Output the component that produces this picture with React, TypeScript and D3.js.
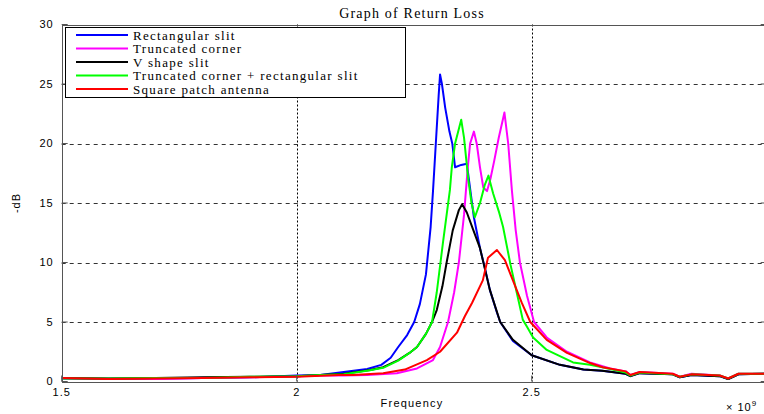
import { useMemo } from 'react';
import * as d3 from 'd3';

const W = 764;
const H = 414;
const MARGIN = { top: 24.5, right: -2.7, bottom: 32.5, left: 61.7 };

type Pt = [number, number];

// frequency in GHz (axis shows x 10^9), return loss in -dB
const rectSlit: Pt[] = [
  [1.5, 0.25], [1.6, 0.2], [1.7, 0.25], [1.8, 0.3], [1.9, 0.35], [2.0, 0.5], [2.05, 0.55],
  [2.1, 0.8], [2.15, 1.05], [2.18, 1.4], [2.2, 2.0], [2.216, 2.9], [2.235, 3.9], [2.25, 5],
  [2.262, 6.5], [2.275, 9], [2.285, 13], [2.29, 16], [2.296, 20], [2.302, 24], [2.305, 25.8],
  [2.309, 25], [2.316, 23], [2.325, 21], [2.331, 20], [2.337, 18], [2.35, 18.2], [2.362, 18.3],
  [2.368, 16.5], [2.377, 13.8], [2.39, 11.2], [2.4, 9.6], [2.411, 7.7], [2.426, 5.8], [2.433, 5],
  [2.46, 3.4], [2.5, 2.2], [2.56, 1.4], [2.61, 1.0], [2.65, 0.9], [2.7, 0.65], [2.71, 0.45],
  [2.73, 0.7], [2.8, 0.6], [2.815, 0.35], [2.84, 0.55], [2.9, 0.45], [2.918, 0.2], [2.94, 0.6],
  [3.0, 0.65],
];

const truncCorner: Pt[] = [
  [1.5, 0.3], [1.6, 0.25], [1.7, 0.2], [1.8, 0.3], [1.9, 0.35], [2.0, 0.45], [2.05, 0.5],
  [2.1, 0.5], [2.15, 0.55], [2.213, 0.7], [2.256, 1.1], [2.29, 1.8], [2.305, 2.9], [2.322, 5],
  [2.335, 7.5], [2.345, 10], [2.356, 14], [2.364, 18], [2.369, 20], [2.377, 21], [2.383, 20],
  [2.39, 18], [2.397, 16.3], [2.405, 16], [2.412, 17], [2.42, 18.5], [2.43, 20.5], [2.442, 22.6],
  [2.45, 20], [2.458, 16], [2.466, 12.7], [2.475, 10], [2.49, 7.2], [2.505, 5], [2.532, 3.7],
  [2.575, 2.5], [2.624, 1.6], [2.667, 1.1], [2.7, 0.85], [2.71, 0.55], [2.73, 0.8], [2.8, 0.65],
  [2.815, 0.4], [2.84, 0.65], [2.9, 0.5], [2.918, 0.25], [2.94, 0.65], [3.0, 0.65],
];

const vShape: Pt[] = [
  [1.5, 0.3], [1.6, 0.25], [1.7, 0.3], [1.8, 0.35], [1.9, 0.4], [2.0, 0.45], [2.05, 0.55],
  [2.1, 0.65], [2.156, 0.97], [2.184, 1.2], [2.216, 1.8], [2.24, 2.4], [2.256, 2.9], [2.275, 4],
  [2.288, 5], [2.298, 6], [2.31, 8], [2.319, 10], [2.332, 12.7], [2.345, 14.4], [2.352, 14.9],
  [2.362, 14.2], [2.375, 12.8], [2.39, 11.2], [2.411, 7.7], [2.433, 5], [2.46, 3.5], [2.5, 2.2],
  [2.56, 1.4], [2.61, 1.0], [2.65, 0.9], [2.7, 0.65], [2.71, 0.45], [2.73, 0.7], [2.8, 0.6],
  [2.815, 0.35], [2.84, 0.55], [2.9, 0.45], [2.918, 0.2], [2.94, 0.6], [3.0, 0.65],
];

const truncRect: Pt[] = [
  [1.5, 0.25], [1.6, 0.25], [1.7, 0.3], [1.8, 0.3], [1.9, 0.4], [2.0, 0.45], [2.05, 0.55],
  [2.1, 0.6], [2.156, 0.95], [2.184, 1.15], [2.216, 1.75], [2.24, 2.4], [2.256, 2.9], [2.275, 4],
  [2.288, 5], [2.298, 7.5], [2.311, 11.6], [2.326, 16.1], [2.33, 18], [2.337, 20], [2.35, 22],
  [2.356, 20.5], [2.365, 17], [2.372, 15], [2.379, 13.8], [2.39, 15], [2.4, 16.5], [2.408, 17.3],
  [2.418, 15.8], [2.43, 14.3], [2.439, 13], [2.455, 9.8], [2.468, 7.5], [2.481, 5.2], [2.49, 4.6],
  [2.503, 3.7], [2.532, 2.65], [2.588, 1.6], [2.624, 1.4], [2.65, 1.2], [2.7, 0.75], [2.71, 0.5],
  [2.73, 0.75], [2.8, 0.6], [2.815, 0.4], [2.84, 0.6], [2.9, 0.5], [2.918, 0.25], [2.94, 0.65],
  [3.0, 0.65],
];

const squarePatch: Pt[] = [
  [1.5, 0.3], [1.6, 0.2], [1.7, 0.25], [1.8, 0.3], [1.9, 0.35], [2.0, 0.4], [2.09, 0.55],
  [2.12, 0.55], [2.184, 0.7], [2.23, 1.0], [2.277, 1.8], [2.305, 2.5], [2.341, 4.1], [2.358, 5.5],
  [2.373, 6.6], [2.396, 8.5], [2.407, 10.4], [2.426, 11.05], [2.443, 10.2], [2.46, 8.5],
  [2.479, 6.6], [2.497, 5], [2.532, 3.5], [2.575, 2.4], [2.624, 1.55], [2.651, 1.2], [2.7, 0.85],
  [2.71, 0.55], [2.73, 0.8], [2.8, 0.65], [2.815, 0.4], [2.84, 0.6], [2.9, 0.5], [2.918, 0.25],
  [2.94, 0.65], [3.0, 0.65],
];

const seriesNames = [
  'Rectangular slit',
  'Truncated corner',
  'V shape slit',
  'Truncated corner + rectangular slit',
  'Square patch antenna',
];
const seriesData = [rectSlit, truncCorner, vShape, truncRect, squarePatch];
const seriesColors = ['#0000ff', '#ff00ff', '#000000', '#00ff00', '#ff0000'];

const xTicks = [1.5, 2, 2.5, 3];
// the "3" label sits past the window's right edge
const xTickLabels = ['1.5', '2', '2.5', ''];
const yTicks = [0, 5, 10, 15, 20, 25, 30];

export default function App() {
  const x0 = MARGIN.left;
  const x1 = W - MARGIN.right;
  const y0 = H - MARGIN.bottom;
  const y1 = MARGIN.top;

  const xScale = useMemo(() => d3.scaleLinear().domain([1.5, 3]).range([x0, x1]), []);
  const yScale = useMemo(() => d3.scaleLinear().domain([0, 30]).range([y0, y1]), []);

  const line = d3
    .line<Pt>()
    .x((d) => xScale(d[0]))
    .y((d) => yScale(d[1]));

  const serif = '"Liberation Serif", "DejaVu Serif", serif';
  const sans = '"Liberation Sans", Arial, sans-serif';

  return (
    <svg
      width={W}
      height={H}
      style={{ position: 'absolute', left: 0, top: 0, background: '#fff' }}
    >
      <defs>
        <clipPath id="plot">
          <rect x={x0} y={y1} width={x1 - x0} height={y0 - y1} />
        </clipPath>
      </defs>
      <rect x={0} y={0} width={W} height={H} fill="#fff" />

      {/* grid */}
      {yTicks.slice(1, -1).map((t) => (
        <line
          key={'gy' + t}
          x1={x0}
          x2={x1}
          y1={Math.round(yScale(t)) + 0.5}
          y2={Math.round(yScale(t)) + 0.5}
          stroke="#333"
          strokeDasharray="4,4"
        />
      ))}
      {xTicks.slice(1, -1).map((t) => (
        <line
          key={'gx' + t}
          x1={Math.round(xScale(t)) + 0.5}
          x2={Math.round(xScale(t)) + 0.5}
          y1={y1}
          y2={y0}
          stroke="#000"
          strokeDasharray="2,2"
        />
      ))}

      {/* curves */}
      <g clipPath="url(#plot)">
        {seriesData.map((d, i) => (
          <path
            key={i}
            d={line(d) || ''}
            fill="none"
            stroke={seriesColors[i]}
            strokeWidth={2}
            strokeLinejoin="round"
          />
        ))}
      </g>

      {/* frame */}
      <rect
        x={Math.round(x0) + 0.5}
        y={Math.round(y1) + 0.5}
        width={x1 - x0}
        height={y0 - y1}
        fill="none"
        stroke="#555"
      />
      {yTicks.map((t) => (
        <g key={'ty' + t}>
          <line x1={x0} x2={x0 + 6} y1={yScale(t)} y2={yScale(t)} stroke="#555" />
          <line x1={x1 - 6} x2={x1} y1={yScale(t)} y2={yScale(t)} stroke="#555" />
          <text
            x={x0 - 8}
            y={yScale(t)}
            dy="0.35em"
            textAnchor="end"
            fontFamily={sans}
            fontSize={11}
            letterSpacing={1}
          >
            {t}
          </text>
        </g>
      ))}
      {xTicks.map((t, i) => (
        <g key={'tx' + t}>
          <line x1={xScale(t)} x2={xScale(t)} y1={y0} y2={y0 - 6} stroke="#555" />
          {xTickLabels[i] && (
            <text
              x={xScale(t)}
              y={y0 + 14}
              textAnchor="middle"
              fontFamily={sans}
              fontSize={11}
              letterSpacing={1}
            >
              {xTickLabels[i]}
            </text>
          )}
        </g>
      ))}

      {/* labels */}
      <text x={412} y={18} textAnchor="middle" fontFamily={serif} fontSize={14} letterSpacing={1.2}>
        Graph of Return Loss
      </text>
      <text x={412} y={407} textAnchor="middle" fontFamily={sans} fontSize={11} letterSpacing={1.2}>
        Frequency
      </text>
      <text
        transform={`translate(20,${(y0 + y1) / 2}) rotate(-90)`}
        textAnchor="middle"
        fontFamily={sans}
        fontSize={11}
        letterSpacing={1}
      >
        -dB
      </text>
      <text x={726} y={411} fontFamily={sans} fontSize={11} letterSpacing={1}>
        × 10
        <tspan dy={-5} fontSize={8}>
          9
        </tspan>
      </text>

      {/* legend */}
      <rect x={65.5} y={27.5} width={340} height={70} fill="#fff" stroke="#000" />
      {seriesNames.map((name, i) => {
        const ly = 35 + i * 13.5;
        return (
          <g key={name}>
            <line x1={76} x2={128} y1={ly} y2={ly} stroke={seriesColors[i]} strokeWidth={2} />
            <text
              x={133}
              y={ly}
              dy="0.35em"
              fontFamily={serif}
              fontSize={13}
              letterSpacing={1.3}
            >
              {name}
            </text>
          </g>
        );
      })}
    </svg>
  );
}
